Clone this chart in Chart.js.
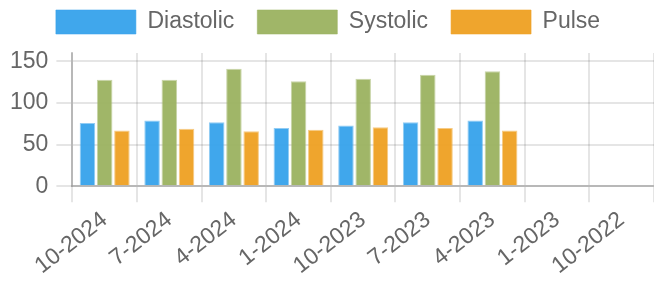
<!DOCTYPE html>
<html>
<head>
<meta charset="utf-8">
<script src="https://cdn.jsdelivr.net/npm/chart.js@4"></script>
<style>
  html, body { margin: 0; padding: 0; background: #fff; }
  #wrap { width: 654px; height: 284px; position: relative; }
</style>
</head>
<body>
<div id="wrap"><canvas id="c"></canvas></div>
<script>
const categories = ["10-2024", "7-2024", "4-2024", "1-2024", "10-2023", "7-2023", "4-2023", "1-2023", "10-2022"];
const diastolic = [76, 79, 77, 70, 73, 77, 79, null, null];
const systolic  = [128, 128, 141, 126, 129, 134, 138, null, null];
const pulse     = [67, 69, 66, 68, 71, 70, 67, null, null];
const yTickStep = 50;
const yMax = 160;

const fontFamily = '"Liberation Sans", Arial, Helvetica, sans-serif';
const textColor = '#666';

// Legend: keep wide horizontal spacing but sit close to the top edge
const legendTweak = {
  id: 'legendTweak',
  beforeInit(chart) {
    const lg = chart.legend;
    if (lg && !lg._tweaked) {
      const origFit = lg.fit.bind(lg);
      lg.fit = function () { origFit(); this.height = 53; };
      lg._tweaked = true;
    }
  },
  afterLayout(chart) {
    if (chart.legend) { chart.legend.top -= 13; }
  }
};

new Chart(document.getElementById('c'), {
  type: 'bar',
  data: {
    labels: categories,
    datasets: [
      { label: 'Diastolic', data: diastolic,
        backgroundColor: 'rgba(54,162,235,0.95)', borderColor: 'rgba(54,162,235,0.55)', borderWidth: 1 },
      { label: 'Systolic', data: systolic,
        backgroundColor: 'rgba(155,178,96,0.95)', borderColor: 'rgba(155,178,96,0.55)', borderWidth: 1 },
      { label: 'Pulse', data: pulse,
        backgroundColor: 'rgba(238,160,34,0.95)', borderColor: 'rgba(238,160,34,0.55)', borderWidth: 1 }
    ]
  },
  plugins: [legendTweak],
  options: {
    responsive: true,
    maintainAspectRatio: false,
    animation: false,
    devicePixelRatio: 1,
    layout: { padding: { left: 2, right: 0, top: 0, bottom: 0 } },
    plugins: {
      legend: {
        position: 'top',
        labels: {
          boxWidth: 80,
          boxHeight: 24,
          padding: 23,
          color: textColor,
          font: { family: fontFamily, size: 23 }
        }
      },
      tooltip: { enabled: false }
    },
    scales: {
      x: {
        grid: { color: 'rgba(0,0,0,0.1)', lineWidth: 2, tickLength: 16 },
        border: { color: 'rgba(0,0,0,0.2)', width: 2 },
        ticks: {
          color: textColor,
          font: { family: fontFamily, size: 23 },
          minRotation: 38, maxRotation: 38,
          autoSkip: false,
          padding: 4
        }
      },
      y: {
        min: 0,
        max: yMax,
        grid: { color: 'rgba(0,0,0,0.1)', lineWidth: 2, tickLength: 16 },
        border: { color: 'rgba(0,0,0,0.2)', width: 2 },
        ticks: {
          stepSize: yTickStep,
          includeBounds: false,
          color: textColor,
          font: { family: fontFamily, size: 23 },
          padding: 8
        }
      }
    }
  }
});
</script>
</body>
</html>
